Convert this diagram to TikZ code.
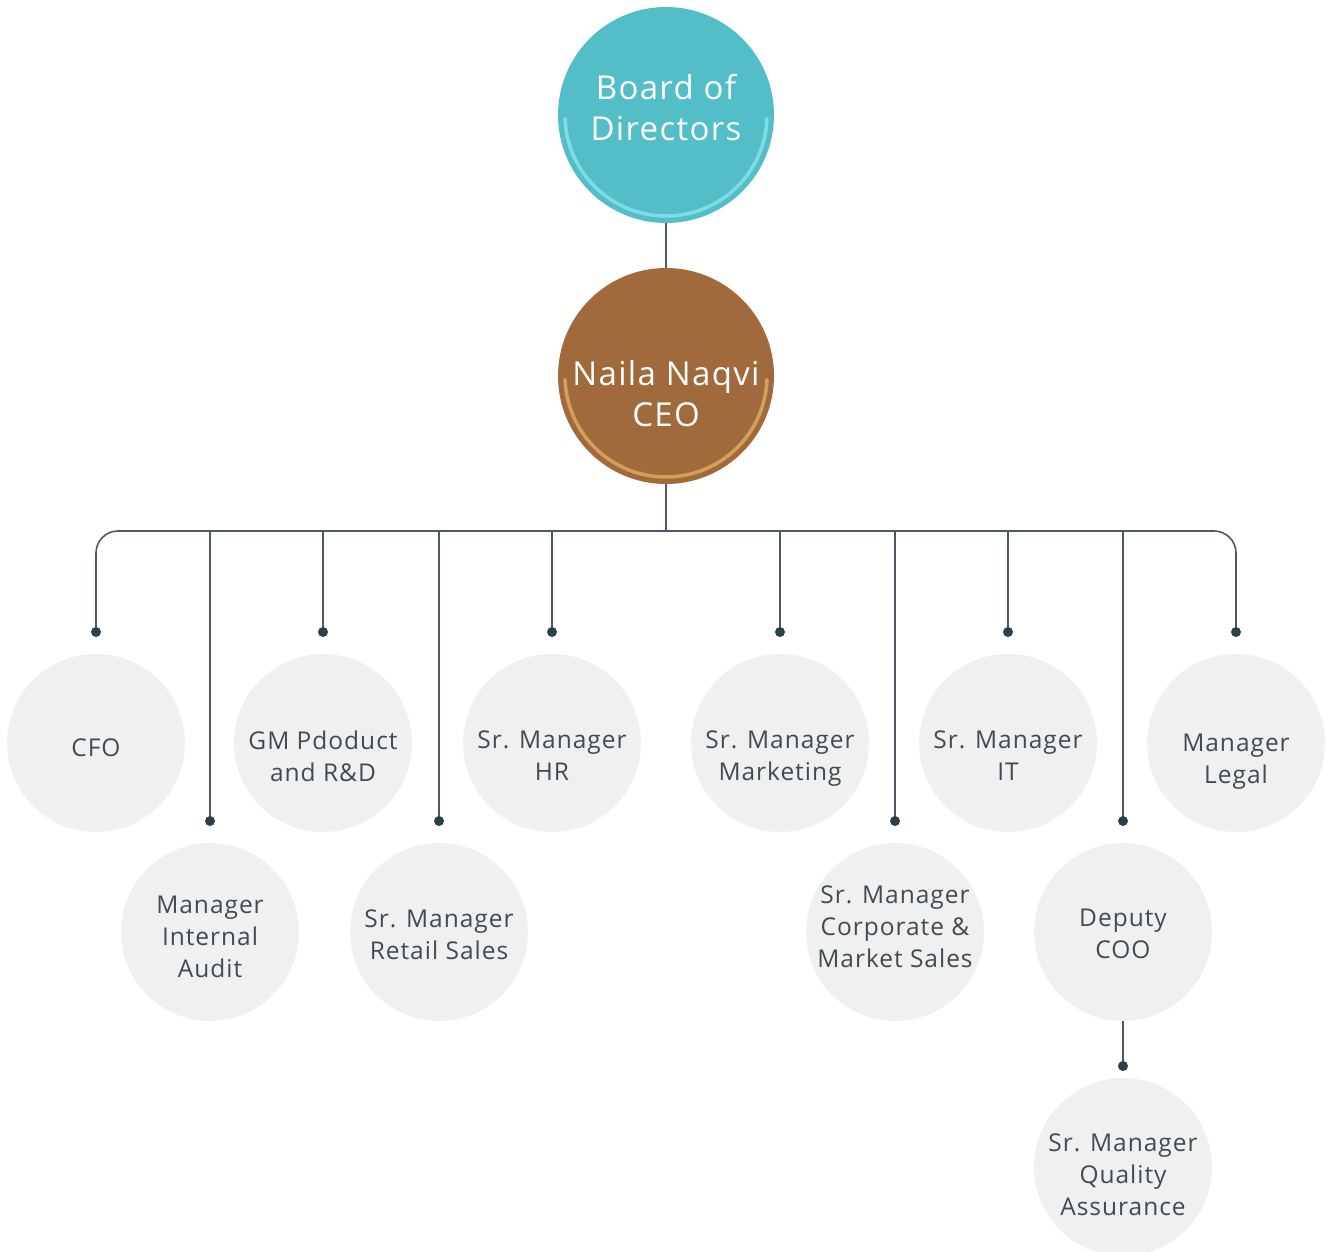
\documentclass[tikz,border=0pt]{standalone}
\usepackage{fontspec}
\setmainfont{Open Sans}[LetterSpace=4]
\definecolor{teal}{HTML}{53BEC8}
\definecolor{teallight}{HTML}{7EDDE3}
\definecolor{brown}{HTML}{A06A3C}
\definecolor{brownlight}{HTML}{D3A05A}
\definecolor{pale}{HTML}{F0F0F0}
\definecolor{ink}{HTML}{3E4C56}
\definecolor{wire}{HTML}{4A5965}
\definecolor{dotc}{HTML}{2E3F4C}
\begin{document}
\begin{tikzpicture}[x=1pt,y=1pt,
  big/.style={circle,minimum size=216pt,inner sep=0pt},
  small/.style={circle,fill=pale,minimum size=178pt,inner sep=0pt},
  txt/.style={text=ink,align=center,font=\fontsize{24.5}{32}\selectfont,inner sep=0pt,execute at end node=\strut},
  bigtxt/.style={text=white,align=center,font=\fontsize{33}{41}\selectfont,inner sep=0pt,execute at end node=\strut},
  wirestyle/.style={draw=wire,line width=1.6pt},
  enddot/.style={circle,fill=dotc,inner sep=0pt,minimum size=10pt}]
\useasboundingbox (0,0) rectangle (1330,-1252);

% top circles
\node[big,fill=teal] (board) at (666,-115) {};
\draw[teallight,line width=3.5pt,line cap=round] ([shift={(182:101)}]board.center) arc[start angle=182,end angle=358,radius=101];
\node[bigtxt] (tboard) at (666,-114) {Board of\\Directors};

\node[big,fill=brown] (ceo) at (666,-376) {};
\draw[brownlight,line width=3.5pt,line cap=round] ([shift={(182:101)}]ceo.center) arc[start angle=182,end angle=358,radius=101];
\node[bigtxt] (tceo) at (666,-400) {Naila Naqvi\\CEO};

\draw[wirestyle] (board.south) -- (ceo.north);
\coordinate (bus) at (666,-531);
\draw[wirestyle] (ceo.south) -- (bus);

% dot coordinates
\foreach \n/\x/\y in {cfo/96/632,audit/210/821,gm/323/632,retail/439/821,hr/552/632,mkt/780/632,corp/895/821,it/1008/632,dep/1123/821,legal/1236/632}{
  \coordinate (d\n) at (\x,-\y);
  \coordinate (b\n) at (\x,-531);
}
\draw[wirestyle,rounded corners=22pt] (dcfo) -- (bcfo) -- (blegal) -- (dlegal);
\foreach \n in {audit,gm,retail,hr,mkt,corp,it,dep}{
  \draw[wirestyle] (b\n) -- (d\n);
}
\foreach \n in {cfo,audit,gm,retail,hr,mkt,corp,it,dep,legal}{
  \node[enddot] (e\n) at (d\n) {};
}

% small circles
\node[small] (cfo) at (96,-743) {};
\node[small] (gm) at (323,-743) {};
\node[small] (hr) at (552,-743) {};
\node[small] (mkt) at (780,-743) {};
\node[small] (it) at (1008,-743) {};
\node[small] (legal) at (1236,-743) {};
\node[small] (audit) at (210,-932) {};
\node[small] (retail) at (439,-932) {};
\node[small] (corp) at (895,-932) {};
\node[small] (dep) at (1123,-932) {};
\node[small] (qa) at (1123,-1167) {};

\coordinate (dqa) at (1123,-1066);
\draw[wirestyle] (dep.south) -- (dqa);
\node[enddot] (eqa) at (dqa) {};

\node[txt] (tcfo) at (96,-750) {CFO};
\node[txt] (tgm) at (323,-761) {GM Pdoduct\\and R\&D};
\node[txt] (thr) at (552,-760) {Sr. Manager\\HR};
\node[txt] (tmkt) at (780,-760) {Sr. Manager\\Marketing};
\node[txt] (tit) at (1008,-760) {Sr. Manager\\IT};
\node[txt] (tlegal) at (1236,-764) {Manager\\Legal};
\node[txt] (taudit) at (210,-942) {Manager\\Internal\\Audit};
\node[txt] (tretail) at (439,-939) {Sr. Manager\\Retail Sales};
\node[txt] (tcorp) at (895,-931) {Sr. Manager\\Corporate \&\\Market Sales};
\node[txt] (tdep) at (1123,-939) {Deputy\\COO};
\node[txt] (tqa) at (1123,-1179) {Sr. Manager\\Quality\\Assurance};
\end{tikzpicture}
\end{document}
